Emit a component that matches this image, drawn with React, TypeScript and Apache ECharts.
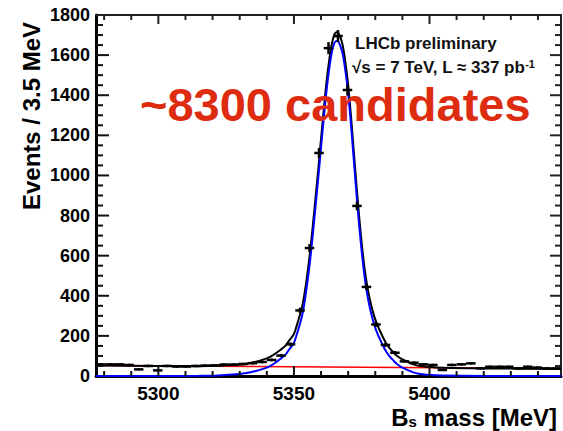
import React, { useEffect, useRef } from "react";
import * as echarts from "echarts";

// ---- data ----
const massMin = 5277;
const massMax = 5448.5;
const binWidth = 3.5;

// events per 3.5 MeV bin, from the first bin at 5277 MeV
const counts = [
  58, 58, 58, 55, 33, 50, 28, 50, 47, 47,
  50, 52, 53, 57, 57, 60, 64, 70, 80, 102,
  158, 327, 638, 1112, 1635, 1695, 1426, 848, 444, 257,
  155, 116, 73, 66, 58, 55, 30, 55, 58, 63,
  38, 46, 46, 46, 38, 46, 42, 38, 38,
];
// vertical half-length of each error bar (events)
const errors = [
  6, 6, 6, 6, 5, 6, 5, 6, 6, 6,
  6, 6, 6, 6, 6, 6, 7, 7, 7, 8,
  10, 14, 20, 25, 30, 30, 28, 22, 16, 12,
  10, 9, 7, 7, 6, 6, 5, 6, 6, 6,
  5, 6, 6, 6, 5, 6, 6, 5, 5,
];

// fitted curves
const curveMass = [
  5277, 5300, 5315, 5322, 5330, 5332, 5334, 5336, 5338, 5340,
  5341, 5342, 5343, 5344, 5345, 5346, 5347, 5348, 5349, 5350,
  5351, 5352, 5353, 5354, 5355, 5356, 5357, 5358, 5359, 5360,
  5361, 5362, 5363, 5364, 5365, 5366, 5367, 5368, 5369, 5370,
  5371, 5372, 5373, 5374, 5375, 5376, 5377, 5378, 5379, 5380,
  5381, 5382, 5383, 5384, 5385, 5386, 5387, 5388, 5389, 5390,
  5392, 5394, 5396, 5399, 5405, 5420, 5448.5,
];
const signalCurve = [
  0, 0, 1, 3, 10, 14, 19, 25, 33, 42,
  48, 56, 65, 75, 85, 96, 108, 128, 145, 165,
  205, 250, 300, 375, 470, 580, 710, 850, 990, 1140,
  1285, 1420, 1530, 1615, 1662, 1672, 1650, 1605, 1520, 1410,
  1260, 1090, 920, 760, 620, 500, 410, 340, 285, 240,
  205, 175, 147, 122, 103, 87, 72, 60, 50, 42,
  29, 18, 11, 6, 2, 0, 0,
];
const totalCurve = [
  52, 50, 49, 51, 57, 60, 65, 71, 79, 88,
  94, 102, 110, 120, 130, 141, 153, 173, 190, 210,
  250, 295, 344, 419, 514, 624, 754, 894, 1034, 1184,
  1329, 1464, 1574, 1658, 1705, 1715, 1693, 1648, 1563, 1453,
  1303, 1133, 963, 803, 662, 542, 452, 382, 327, 282,
  247, 217, 189, 163, 144, 128, 113, 101, 91, 83,
  70, 58, 51, 46, 41, 38, 35,
];
const backgroundMass = [5277, 5448.5];
const backgroundCurve = [52, 37];

// axis ticks
const majorXTicks = [5300, 5350, 5400];
const minorXTicks = [5280, 5290, 5310, 5320, 5330, 5340, 5360, 5370, 5380, 5390, 5410, 5420, 5430, 5440];
const majorYTicks = [200, 400, 600, 800, 1000, 1200, 1400, 1600];
const minorYTicks = [
  50, 100, 150, 250, 300, 350, 450, 500, 550, 650, 700, 750, 850, 900, 950,
  1050, 1100, 1150, 1250, 1300, 1350, 1450, 1500, 1550, 1650, 1700, 1750,
];
const yMax = 1800;
const yStep = 200;

const yTitle = "Events / 3.5 MeV";
const xTitleMain = "B";
const xTitleSub = "s";
const xTitleRest = " mass [MeV]";
const expLine1 = "LHCb preliminary";
const expLine2 = "√s = 7 TeV, L ≈ 337 pb";
const expLine2Sup = "-1";
const bigLabel = "~8300 candidates";

const FONT = "'Liberation Sans', Arial, Helvetica, sans-serif";

const W = 563;
const H = 431;
const PLOT_LEFT = 96;
const PLOT_RIGHT = 561;
const PLOT_TOP = 15;
const PLOT_BOTTOM = 376;

export default function App() {
  const ref = useRef<HTMLDivElement>(null);

  useEffect(() => {
    if (!ref.current) return;
    const chart = echarts.init(ref.current, undefined, { renderer: "svg" });

    const points = counts.map((c, i) => [massMin + binWidth * (i + 0.5), c, errors[i]]);
    const pair = (xs: number[], ys: number[]) => xs.map((x, i) => [x, ys[i]]);
    const half = binWidth / 2;
    const plain = (v: number) => String(v);
    // pixel position of a mass on the main axis (to align the label-only axis)
    const px = (m: number) => PLOT_LEFT + ((m - massMin) / (massMax - massMin)) * (PLOT_RIGHT - PLOT_LEFT);

    // [mass, events, tick length at bottom/left (px), tick length at top/right (px)]
    const xTickData = [
      ...majorXTicks.map((v) => [v, 0, 10, 9]),
      ...minorXTicks.map((v) => [v, 0, 5, 5]),
    ];
    const yTickData = [
      ...majorYTicks.map((v) => [massMin, v, 13, 11]),
      ...minorYTicks.map((v) => [massMin, v, 7, 6]),
    ];

    const gridV = { top: PLOT_TOP, bottom: H - PLOT_BOTTOM, containLabel: false };
    const seg = (x1: number, y1: number, x2: number, y2: number, w: number, c = "#000") => ({
      type: "line",
      shape: { x1, y1, x2, y2 },
      style: { stroke: c, lineWidth: w, fill: null },
    });

    const option: any = {
      animation: false,
      grid: [
        { ...gridV, left: PLOT_LEFT, right: W - PLOT_RIGHT },
        { ...gridV, left: px(majorXTicks[0]), right: W - px(majorXTicks[majorXTicks.length - 1]) },
      ],
      xAxis: [
        {
          type: "value",
          gridIndex: 0,
          position: "bottom",
          min: massMin,
          max: massMax,
          splitLine: { show: false },
          axisLine: { show: true, onZero: false, lineStyle: { color: "#000", width: 3 } },
          axisTick: { show: false },
          axisLabel: { show: false },
        },
        {
          type: "value",
          gridIndex: 0,
          position: "top",
          min: massMin,
          max: massMax,
          splitLine: { show: false },
          axisLine: { show: true, onZero: false, lineStyle: { color: "#222", width: 2 } },
          axisTick: { show: false },
          axisLabel: { show: false },
        },
        {
          type: "value",
          gridIndex: 1,
          position: "bottom",
          min: majorXTicks[0],
          max: majorXTicks[majorXTicks.length - 1],
          interval: majorXTicks[1] - majorXTicks[0],
          splitLine: { show: false },
          axisLine: { show: false, onZero: false },
          axisTick: { show: false },
          axisLabel: {
            show: true,
            formatter: plain,
            margin: 8,
            fontSize: 19,
            fontWeight: "bold",
            color: "#000",
            fontFamily: FONT,
            showMinLabel: true,
            showMaxLabel: true,
          },
        },
      ],
      yAxis: [
        {
          type: "value",
          gridIndex: 0,
          position: "left",
          min: 0,
          max: yMax,
          interval: yStep,
          splitLine: { show: false },
          axisLine: { show: true, onZero: false, lineStyle: { color: "#000", width: 3 } },
          axisTick: { show: false },
          axisLabel: { formatter: plain, margin: 6, fontSize: 18, fontWeight: "bold", color: "#000", fontFamily: FONT },
        },
        {
          type: "value",
          gridIndex: 0,
          position: "right",
          min: 0,
          max: yMax,
          interval: yStep,
          splitLine: { show: false },
          axisLine: { show: true, onZero: false, lineStyle: { color: "#222", width: 2 } },
          axisTick: { show: false },
          axisLabel: { show: false },
        },
        { type: "value", gridIndex: 1, show: false, min: 0, max: yMax },
      ],
      series: [
        {
          name: "background",
          type: "line",
          xAxisIndex: 0,
          yAxisIndex: 0,
          data: pair(backgroundMass, backgroundCurve),
          symbol: "none",
          lineStyle: { color: "#ff0000", width: 1.5 },
          z: 2,
        },
        {
          name: "total fit",
          type: "line",
          xAxisIndex: 0,
          yAxisIndex: 0,
          data: pair(curveMass, totalCurve),
          symbol: "none",
          smooth: 0.3,
          lineStyle: { color: "#000", width: 2 },
          z: 3,
        },
        {
          name: "signal",
          type: "line",
          xAxisIndex: 0,
          yAxisIndex: 0,
          data: pair(curveMass, signalCurve),
          symbol: "none",
          smooth: 0.3,
          lineStyle: { color: "#0000ff", width: 2 },
          z: 4,
        },
        {
          name: "data",
          type: "custom",
          xAxisIndex: 0,
          yAxisIndex: 0,
          data: points,
          encode: { x: 0, y: 1 },
          z: 10,
          renderItem: (_params: any, api: any) => {
            const x = api.value(0);
            const y = api.value(1);
            const e = api.value(2);
            const l = api.coord([x - half, y]);
            const r = api.coord([x + half, y]);
            const t = api.coord([x, y + e]);
            const b = api.coord([x, y - e]);
            return {
              type: "group",
              children: [seg(l[0], l[1], r[0], r[1], 2.5), seg(t[0], t[1], b[0], b[1], 2.5)],
            };
          },
        },
        {
          name: "x ticks",
          type: "custom",
          xAxisIndex: 0,
          yAxisIndex: 0,
          data: xTickData,
          encode: { x: 0, y: 1 },
          z: 11,
          silent: true,
          renderItem: (_params: any, api: any) => {
            const v = api.value(0);
            const b = api.coord([v, 0]);
            const t = api.coord([v, yMax]);
            const lb = api.value(2);
            const lt = api.value(3);
            return {
              type: "group",
              children: [seg(b[0], b[1], b[0], b[1] - lb, 2, "#111"), seg(t[0], t[1], t[0], t[1] + lt, 2, "#222")],
            };
          },
        },
        {
          name: "y ticks",
          type: "custom",
          xAxisIndex: 0,
          yAxisIndex: 0,
          data: yTickData,
          encode: { x: 0, y: 1 },
          z: 11,
          silent: true,
          renderItem: (_params: any, api: any) => {
            const v = api.value(1);
            const l = api.coord([massMin, v]);
            const r = api.coord([massMax, v]);
            const ll = api.value(2);
            const lr = api.value(3);
            return {
              type: "group",
              children: [seg(l[0], l[1], l[0] + ll, l[1], 2, "#111"), seg(r[0], r[1], r[0] - lr, r[1], 2, "#222")],
            };
          },
        },
      ],
      graphic: [
        {
          type: "text",
          x: 31,
          y: 116,
          rotation: Math.PI / 2,
          style: {
            text: yTitle,
            fontSize: 24,
            fontWeight: "bold",
            fontFamily: FONT,
            fill: "#000",
            align: "center",
            verticalAlign: "middle",
            textAlign: "center",
            textVerticalAlign: "middle",
          },
        },
        {
          type: "text",
          x: 557,
          y: 417,
          style: {
            text: `{m|${xTitleMain}}{s|${xTitleSub}}{m|${xTitleRest}}`,
            align: "right",
            verticalAlign: "middle",
            textAlign: "right",
            textVerticalAlign: "middle",
            fill: "#000",
            rich: {
              m: { fontSize: 24, fontWeight: "bold", fontFamily: FONT, fill: "#000" },
              s: { fontSize: 15, fontWeight: "bold", fontFamily: FONT, fill: "#000", verticalAlign: "top", padding: [9, 0, 0, 0] },
            },
          },
        },
        {
          type: "text",
          x: 355,
          y: 43,
          style: {
            text: expLine1,
            fontSize: 17,
            fontWeight: "bold",
            fontFamily: FONT,
            fill: "#111",
            align: "left",
            verticalAlign: "middle",
            textAlign: "left",
            textVerticalAlign: "middle",
          },
        },
        {
          type: "text",
          x: 352,
          y: 67,
          style: {
            text: `{n|${expLine2}}{p|${expLine2Sup}}`,
            align: "left",
            verticalAlign: "middle",
            textAlign: "left",
            textVerticalAlign: "middle",
            fill: "#111",
            rich: {
              n: { fontSize: 17, fontWeight: "bold", fontFamily: FONT, fill: "#111" },
              p: { fontSize: 11, fontWeight: "bold", fontFamily: FONT, fill: "#111", verticalAlign: "top" },
            },
          },
        },
        {
          type: "text",
          x: 140,
          y: 104,
          z: 20,
          style: {
            text: bigLabel,
            fontSize: 47,
            fontWeight: "bold",
            fontFamily: FONT,
            fill: "#dd2c10",
            align: "left",
            verticalAlign: "middle",
            textAlign: "left",
            textVerticalAlign: "middle",
          },
        },
      ],
    };

    chart.setOption(option);
    return () => chart.dispose();
  }, []);

  return (
    <div
      ref={ref}
      style={{ position: "absolute", left: 0, top: 0, width: W, height: H, background: "#fff" }}
    />
  );
}
